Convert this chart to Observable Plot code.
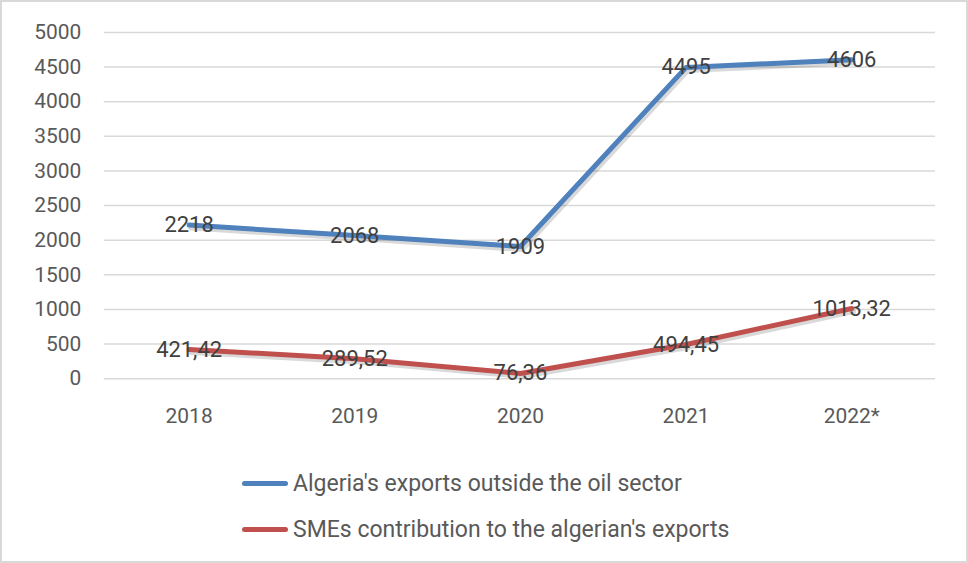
<!DOCTYPE html>
<html>
<head>
<meta charset="utf-8">
<script src="https://cdn.jsdelivr.net/npm/d3@7"></script>
<script src="https://cdn.jsdelivr.net/npm/@observablehq/plot@0.6"></script>
<style>
  html, body { margin: 0; padding: 0; background: #fff; }
  #frame { position: relative; width: 968px; height: 563px; box-sizing: border-box; border: 2px solid #d9d9d9; overflow: hidden; background: #fff; }
  #chart { position: absolute; left: -2px; top: -2px; }
  #legend { position: absolute; left: 240px; top: 458px; font-family: Roboto, "Liberation Sans", sans-serif; font-size: 23px; color: #595959; }
  .item { display: flex; align-items: center; height: 46px; }
  .swatch { width: 46px; height: 5px; border-radius: 3px; margin-right: 5px; }
</style>
</head>
<body>
<div id="frame">
  <div id="chart"></div>
  <div id="legend"></div>
</div>
<script>
const years = ["2018", "2019", "2020", "2021", "2022*"];
const exportsOutsideOil = [2218, 2068, 1909, 4495, 4606];
const smesContribution = [421.42, 289.52, 76.36, 494.45, 1013.32];
const seriesNames = ["Algeria's exports outside the oil sector", "SMEs contribution to the algerian's exports"];
const seriesColors = ["#4f81bd", "#c0504d"];
const yTicks = [0, 500, 1000, 1500, 2000, 2500, 3000, 3500, 4000, 4500, 5000];

const fmt = v => String(v).replace(".", ",");
const data = [];
years.forEach((y, i) => {
  data.push({year: y, value: exportsOutsideOil[i], series: seriesNames[0]});
});
years.forEach((y, i) => {
  data.push({year: y, value: smesContribution[i], series: seriesNames[1]});
});

const font = "Roboto, 'Liberation Sans', sans-serif";
const chart = Plot.plot({
  width: 968,
  height: 445,
  marginLeft: 104,
  marginRight: 31,
  marginTop: 32,
  marginBottom: 66,
  style: {fontFamily: font, fontSize: "21px", color: "#595959", background: "transparent"},
  x: {type: "point", domain: years, padding: 0.5, label: null},
  y: {domain: [0, 5000], label: null},
  color: {domain: seriesNames, range: seriesColors},
  marks: [
    Plot.ruleY(yTicks, {stroke: "#d9d9d9", strokeWidth: 1.5}),
    Plot.axisY({ticks: yTicks, tickFormat: d => String(d), tickSize: 0, tickPadding: 23, fontSize: 21, fill: "#595959", label: null}),
    Plot.axisX({tickSize: 0, tickPadding: 29, fontSize: 21, fill: "#595959", label: null}),
    Plot.line(data, {x: "year", y: "value", z: "series", stroke: "#000", strokeOpacity: 0.15, strokeWidth: 5, dx: 2, dy: 3}),
    Plot.line(data, {x: "year", y: "value", stroke: "series", strokeWidth: 5}),
    Plot.text(data, {x: "year", y: "value", text: d => fmt(d.value), fill: "#404040", fontSize: 22})
  ]
});
document.getElementById("chart").appendChild(chart);

const legend = document.getElementById("legend");
seriesNames.forEach((name, i) => {
  const item = document.createElement("div");
  item.className = "item";
  const sw = document.createElement("div");
  sw.className = "swatch";
  sw.style.background = seriesColors[i];
  const label = document.createElement("span");
  label.textContent = name;
  item.appendChild(sw);
  item.appendChild(label);
  legend.appendChild(item);
});
</script>
</body>
</html>
